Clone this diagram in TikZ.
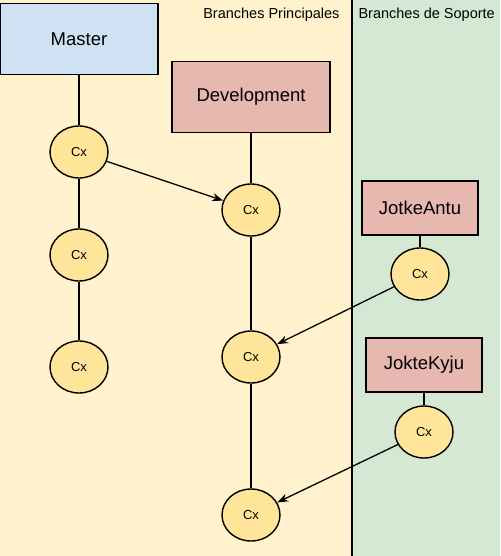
\documentclass[tikz,border=0pt]{standalone}
\usepackage{fontspec}
\setmainfont{Liberation Sans}
\usetikzlibrary{shapes.geometric,arrows.meta}

\definecolor{fondoPrin}{HTML}{FFF2CC}
\definecolor{fondoSop}{HTML}{D5E8D4}
\definecolor{azul}{HTML}{CFE2F3}
\definecolor{rosa}{HTML}{E6B8AF}
\definecolor{amarillo}{HTML}{FFE599}

\tikzset{
	rama/.style={draw, line width=1.4pt, minimum width=158pt, minimum height=71pt, font=\fontsize{18.5}{21}\selectfont},
	ramaSop/.style={rama, minimum width=116pt, minimum height=54pt},
	commit/.style={ellipse, draw, line width=1.4pt, fill=amarillo, minimum width=58pt, minimum height=52pt, inner sep=0pt, font=\fontsize{13}{15}\selectfont},
	enlace/.style={line width=1.3pt},
	merge/.style={enlace, -{Stealth[length=11pt, width=8pt, inset=3.5pt]}}
}

\begin{document}
\begin{tikzpicture}[x=1pt,y=-1pt]
		\useasboundingbox (0,0) rectangle (500,556);
		\fill[fondoPrin] (0,0) rectangle (352,556);
		\fill[fondoSop] (352,0) rectangle (500,556);
		\draw[line width=1.4pt] (352,0) -- (352,556);
		\node[anchor=east, font=\fontsize{14.5}{17}\selectfont] (tPrin) at (343,15) {Branches Principales};
		\node[anchor=west, font=\fontsize{14.5}{17}\selectfont] (tSop) at (355,15) {Branches de Soporte};
		
		% ramas
		\node[rama, fill=azul] (master) at (79,39) {Master};
		\node[rama, fill=rosa] (dev) at (251,97) {Development};
		\node[ramaSop, fill=rosa] (antu) at (420,208) {JotkeAntu};
		\node[ramaSop, fill=rosa] (kyju) at (424,365) {JokteKyju};
		
		% commits
		\node[commit] (m1) at (79,152) {Cx};
		\node[commit] (m2) at (79,255) {Cx};
		\node[commit] (m3) at (79,367) {Cx};
		\node[commit] (d1) at (251,210) {Cx};
		\node[commit] (d2) at (251,357) {Cx};
		\node[commit] (d3) at (251,515) {Cx};
		\node[commit] (a1) at (420,274) {Cx};
		\node[commit] (k1) at (424,432) {Cx};
		
		\draw[enlace] (master) -- (m1) -- (m2) -- (m3);
		\draw[enlace] (dev) -- (d1) -- (d2) -- (d3);
		\draw[enlace] (antu) -- (a1);
		\draw[enlace] (kyju) -- (k1);
		
		\draw[merge] (m1) -- (d1);
		\draw[merge] (a1) -- (d2);
		\draw[merge] (k1) -- (d3);
\end{tikzpicture}
\end{document}
